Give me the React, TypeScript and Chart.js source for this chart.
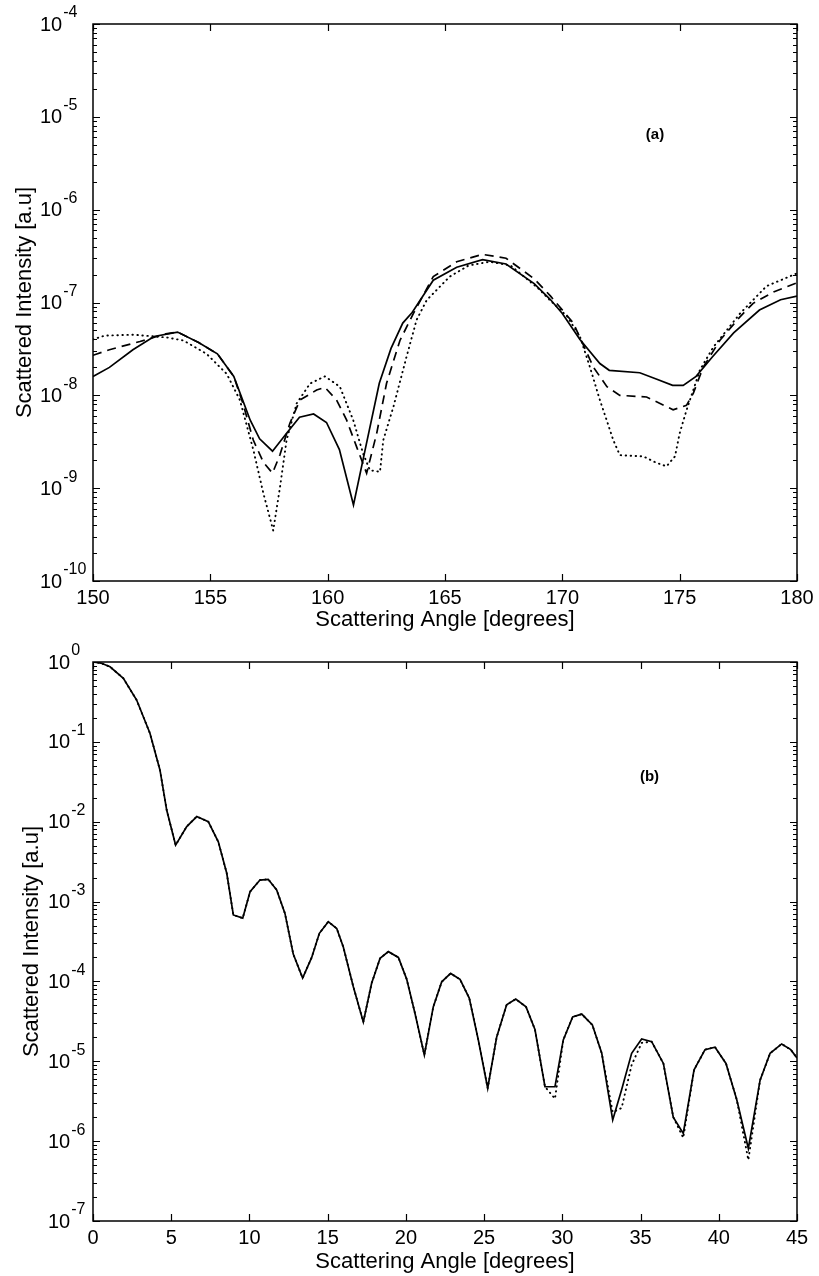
import React, { useEffect, useRef } from 'react';
import { Chart, registerables } from 'chart.js';

Chart.register(...registerables);

const FONT = '"Liberation Sans", Arial, Helvetica, sans-serif';

// ---------- Panel (a): back-scattering region ----------
const anglesA_solid = [150, 150.7, 151.7, 152.6, 153.6, 154.5, 155.3, 156.0, 156.7, 157.1, 157.65, 158.25, 158.8, 159.4, 159.95, 160.5, 161.1, 161.65, 162.2, 162.7, 163.2, 163.6, 164.5, 165.5, 166.6, 167.6, 168.8, 169.5, 170.0, 170.75, 171.6, 172.0, 173.3, 174.0, 174.7, 175.15, 175.7, 176.4, 177.3, 178.4, 179.3, 180];
const intensityA_solid = [1.6e-8, 2.0e-8, 3.1e-8, 4.3e-8, 4.8e-8, 3.7e-8, 2.8e-8, 1.6e-8, 5.4e-9, 3.4e-9, 2.5e-9, 3.9e-9, 5.8e-9, 6.3e-9, 5.1e-9, 2.6e-9, 6.6e-10, 3.0e-9, 1.35e-8, 3.2e-8, 6.0e-8, 7.8e-8, 1.74e-7, 2.4e-7, 2.9e-7, 2.6e-7, 1.6e-7, 1.07e-7, 7.6e-8, 4.0e-8, 2.2e-8, 1.86e-8, 1.75e-8, 1.5e-8, 1.28e-8, 1.28e-8, 1.6e-8, 2.6e-8, 4.7e-8, 8.3e-8, 1.07e-7, 1.17e-7];

const anglesA_dashed = [150, 150.7, 152.0, 153.1, 153.6, 154.5, 155.3, 156.0, 156.4, 156.83, 157.26, 157.65, 157.97, 158.39, 158.82, 159.53, 159.88, 160.38, 160.81, 161.23, 161.66, 162.09, 162.51, 163.08, 163.65, 164.5, 165.5, 166.6, 167.6, 168.8, 169.5, 170.47, 171.33, 171.9, 172.45, 173.59, 174.72, 175.29, 175.58, 176.0, 176.71, 177.57, 178.13, 179.0, 180];
const intensityA_dashed = [2.7e-8, 3.1e-8, 3.8e-8, 4.6e-8, 4.8e-8, 3.7e-8, 2.8e-8, 1.6e-8, 8.0e-9, 3.3e-9, 1.9e-9, 1.45e-9, 2.3e-9, 5.0e-9, 8.9e-9, 1.14e-8, 1.22e-8, 8.9e-9, 5.4e-9, 2.8e-9, 1.45e-9, 3.9e-9, 1.35e-8, 3.9e-8, 7.6e-8, 1.9e-7, 2.75e-7, 3.3e-7, 3.0e-7, 1.8e-7, 1.17e-7, 6.0e-8, 2.0e-8, 1.24e-8, 1.0e-8, 9.6e-9, 7.0e-9, 7.8e-9, 1.05e-8, 2.0e-8, 3.9e-8, 7.0e-8, 9.8e-8, 1.3e-7, 1.63e-7];

const anglesA_dotted = [150, 150.5, 151.72, 153.14, 153.85, 154.84, 155.7, 156.26, 156.83, 157.26, 157.68, 157.97, 158.25, 158.68, 159.25, 159.88, 160.52, 161.09, 161.51, 161.8, 162.23, 162.37, 162.8, 163.36, 163.79, 164.22, 165.2, 166.0, 166.9, 167.8, 169.0, 169.47, 170.2, 170.75, 171.18, 171.6, 171.89, 172.17, 172.45, 173.45, 174.02, 174.44, 174.8, 175.0, 175.29, 175.58, 175.86, 176.43, 177.0, 177.57, 178.7, 180];
const intensityA_dotted = [4.0e-8, 4.4e-8, 4.5e-8, 4.2e-8, 3.9e-8, 2.8e-8, 1.7e-8, 8.9e-9, 2.6e-9, 8.8e-10, 3.5e-10, 1.03e-9, 3.3e-9, 8.2e-9, 1.34e-8, 1.6e-8, 1.24e-8, 5.4e-9, 2.36e-9, 1.56e-9, 1.5e-9, 3.3e-9, 7.5e-9, 2.6e-8, 6.5e-8, 1.06e-7, 1.9e-7, 2.5e-7, 2.75e-7, 2.5e-7, 1.4e-7, 1.06e-7, 7.1e-8, 4.3e-8, 2.0e-8, 8.9e-9, 5.4e-9, 3.3e-9, 2.27e-9, 2.2e-9, 1.87e-9, 1.72e-9, 2.2e-9, 3.9e-9, 6.9e-9, 1.14e-8, 1.87e-8, 3.3e-8, 5.0e-8, 7.6e-8, 1.5e-7, 2.06e-7];

// ---------- Panel (b): forward-scattering region ----------
const anglesB = [0, 0.5, 1.09, 1.94, 2.79, 3.64, 4.28, 4.71, 5.28, 5.99, 6.63, 7.37, 8.01, 8.55, 8.97, 9.57, 10.04, 10.67, 11.2, 11.74, 12.27, 12.8, 13.4, 13.98, 14.47, 15.04, 15.58, 16.0, 16.64, 17.28, 17.81, 18.35, 18.88, 19.52, 20.05, 20.58, 21.18, 21.75, 22.29, 22.86, 23.46, 24.05, 24.63, 25.23, 25.8, 26.44, 27.02, 27.68, 28.25, 28.89, 29.53, 30.06, 30.66, 31.24, 31.92, 32.52, 33.22, 33.79, 34.43, 35.07, 35.71, 36.46, 37.09, 37.73, 38.42, 39.12, 39.76, 40.46, 41.15, 41.89, 42.64, 43.28, 44.02, 44.6, 45];
const intensityB_solid = [1.0, 0.97, 0.87, 0.625, 0.334, 0.128, 0.0445, 0.014, 5.1e-3, 8.7e-3, 1.16e-2, 1.0e-2, 5.6e-3, 2.26e-3, 6.8e-4, 6.2e-4, 1.33e-3, 1.86e-3, 1.9e-3, 1.4e-3, 7.1e-4, 2.2e-4, 1.1e-4, 2.0e-4, 4.0e-4, 5.6e-4, 4.6e-4, 2.7e-4, 8.6e-5, 3.1e-5, 9.5e-5, 1.95e-4, 2.36e-4, 2.0e-4, 1.07e-4, 4.0e-5, 1.2e-5, 4.8e-5, 9.9e-5, 1.26e-4, 1.06e-4, 6.2e-5, 1.85e-5, 4.6e-6, 2.0e-5, 5.1e-5, 6.0e-5, 4.8e-5, 2.5e-5, 4.8e-6, 4.8e-6, 1.85e-5, 3.6e-5, 3.9e-5, 2.85e-5, 1.26e-5, 1.84e-6, 4.4e-6, 1.26e-5, 1.9e-5, 1.76e-5, 9.4e-6, 2.0e-6, 1.25e-6, 7.8e-6, 1.4e-5, 1.5e-5, 9.4e-6, 3.3e-6, 8.1e-7, 5.8e-6, 1.26e-5, 1.65e-5, 1.4e-5, 1.1e-5];
const intensityB_dotted = [1.0, 0.97, 0.87, 0.625, 0.334, 0.128, 0.0445, 0.014, 5.1e-3, 8.7e-3, 1.16e-2, 1.0e-2, 5.6e-3, 2.26e-3, 6.8e-4, 6.2e-4, 1.33e-3, 1.86e-3, 1.9e-3, 1.4e-3, 7.1e-4, 2.2e-4, 1.1e-4, 2.0e-4, 4.0e-4, 5.6e-4, 4.6e-4, 2.7e-4, 8.6e-5, 3.1e-5, 9.5e-5, 1.95e-4, 2.36e-4, 2.0e-4, 1.07e-4, 4.0e-5, 1.2e-5, 4.8e-5, 9.9e-5, 1.26e-4, 1.06e-4, 6.2e-5, 1.85e-5, 4.6e-6, 2.0e-5, 5.1e-5, 6.0e-5, 4.8e-5, 2.5e-5, 4.8e-6, 3.4e-6, 1.85e-5, 3.6e-5, 3.9e-5, 2.85e-5, 1.26e-5, 2.3e-6, 2.6e-6, 9.0e-6, 1.7e-5, 1.76e-5, 9.4e-6, 2.0e-6, 1.1e-6, 7.8e-6, 1.4e-5, 1.5e-5, 9.4e-6, 3.3e-6, 5.8e-7, 5.8e-6, 1.26e-5, 1.65e-5, 1.4e-5, 1.1e-5];

const X_TITLE = 'Scattering Angle [degrees]';
const Y_TITLE = 'Scattered Intensity [a.u]';

const toPoints = (xs: number[], ys: number[]) => xs.map((x, i) => ({ x, y: ys[i] }));

const matlabFrame = {
  id: 'matlabFrame',
  afterDraw(chart: any, _args: any, opts: any) {
    const { ctx, chartArea: ca } = chart;
    const xs = chart.scales.x;
    const ys = chart.scales.y;
    ctx.save();
    ctx.strokeStyle = '#000';
    ctx.lineWidth = 1.5;
    ctx.strokeRect(ca.left, ca.top, ca.right - ca.left, ca.bottom - ca.top);

    ctx.lineWidth = 1.2;
    ctx.beginPath();
    xs.ticks.forEach((t: any) => {
      const px = Math.round(xs.getPixelForValue(t.value)) + 0.5;
      ctx.moveTo(px, ca.bottom);
      ctx.lineTo(px, ca.bottom - 7);
      ctx.moveTo(px, ca.top);
      ctx.lineTo(px, ca.top + 7);
    });
    for (let e = opts.minExp; e <= opts.maxExp; e++) {
      for (let m = 1; m <= 9; m++) {
        if (e === opts.maxExp && m > 1) break;
        const v = m * Math.pow(10, e);
        const py = Math.round(ys.getPixelForValue(v)) + 0.5;
        const len = m === 1 ? 7 : 4;
        ctx.moveTo(ca.left, py);
        ctx.lineTo(ca.left + len, py);
        ctx.moveTo(ca.right, py);
        ctx.lineTo(ca.right - len, py);
      }
    }
    ctx.stroke();

    ctx.fillStyle = '#000';
    ctx.textAlign = 'left';
    ctx.textBaseline = 'middle';
    for (let e = opts.minExp; e <= opts.maxExp; e++) {
      const py = ys.getPixelForValue(Math.pow(10, e));
      ctx.font = `20px ${FONT}`;
      ctx.fillText('10', opts.labelLeft, py + 1);
      const w = ctx.measureText('10').width;
      ctx.font = `16px ${FONT}`;
      ctx.fillText(String(e), opts.labelLeft + w + 1, py - 11);
    }

    ctx.font = `22px ${FONT}`;
    ctx.textAlign = 'center';
    ctx.textBaseline = 'alphabetic';
    ctx.fillText(X_TITLE, (ca.left + ca.right) / 2, ca.bottom + opts.xTitleOffset);

    ctx.save();
    ctx.translate(opts.yTitleX, (ca.top + ca.bottom) / 2);
    ctx.rotate(-Math.PI / 2);
    ctx.textBaseline = 'middle';
    ctx.fillText(Y_TITLE, 0, 0);
    ctx.restore();

    ctx.font = `bold 15px ${FONT}`;
    ctx.textAlign = 'center';
    ctx.textBaseline = 'middle';
    ctx.fillText(opts.panelLabel, xs.getPixelForValue(opts.panelX), ys.getPixelForValue(opts.panelY));
    ctx.restore();
  },
};

const solidStyle = { borderColor: '#000', borderWidth: 1.7, pointRadius: 0, tension: 0, fill: false };
const dashedStyle = { borderColor: '#000', borderWidth: 1.7, borderDash: [9, 6], pointRadius: 0, tension: 0, fill: false };
const dottedStyle = { borderColor: '#000', borderWidth: 1.9, borderDash: [0.5, 4.5], borderCapStyle: 'round', pointRadius: 0, tension: 0, fill: false };

function makeOptions(p: any) {
  return {
    responsive: false,
    animation: false,
    devicePixelRatio: 1,
    layout: { padding: { top: p.top, right: 22, left: 0, bottom: 0 } },
    plugins: {
      legend: { display: false },
      tooltip: { enabled: false },
      matlabFrame: p.frame,
    },
    scales: {
      x: {
        type: 'linear',
        min: p.xMin,
        max: p.xMax,
        ticks: { stepSize: 5, autoSkip: false, maxRotation: 0, color: '#000', padding: -3, font: { size: 20, family: FONT } },
        grid: { display: false },
        border: { display: false },
        afterFit: (s: any) => { s.height = p.xAxisHeight; },
      },
      y: {
        type: 'logarithmic',
        min: p.yMin,
        max: p.yMax,
        ticks: { display: false },
        grid: { display: false },
        border: { display: false },
        afterFit: (s: any) => { s.width = 93; },
      },
    },
  };
}

export default function App() {
  const refA = useRef<HTMLCanvasElement>(null);
  const refB = useRef<HTMLCanvasElement>(null);

  useEffect(() => {
    const chartA = new Chart(refA.current as HTMLCanvasElement, {
      type: 'line',
      data: {
        datasets: [
          { ...solidStyle, data: toPoints(anglesA_solid, intensityA_solid), order: 0 },
          { ...dashedStyle, data: toPoints(anglesA_dashed, intensityA_dashed), order: 1 },
          { ...dottedStyle, data: toPoints(anglesA_dotted, intensityA_dotted), order: 2 },
        ],
      },
      options: makeOptions({
        top: 24, xMin: 150, xMax: 180, yMin: 1e-10, yMax: 1e-4, xAxisHeight: 59,
        frame: { minExp: -10, maxExp: -4, labelLeft: 40, yTitleX: 25, xTitleOffset: 45, panelLabel: '(a)', panelX: 173.95, panelY: 6.4e-6 },
      }) as any,
      plugins: [matlabFrame],
    } as any);

    const chartB = new Chart(refB.current as HTMLCanvasElement, {
      type: 'line',
      data: {
        datasets: [
          { ...solidStyle, data: toPoints(anglesB, intensityB_solid), order: 0 },
          { ...dottedStyle, data: toPoints(anglesB, intensityB_dotted), order: 1 },
        ],
      },
      options: makeOptions({
        top: 22, xMin: 0, xMax: 45, yMin: 1e-7, yMax: 1, xAxisHeight: 55,
        frame: { minExp: -7, maxExp: 0, labelLeft: 48, yTitleX: 32, xTitleOffset: 47, panelLabel: '(b)', panelX: 35.57, panelY: 0.0366 },
      }) as any,
      plugins: [matlabFrame],
    } as any);

    return () => {
      chartA.destroy();
      chartB.destroy();
    };
  }, []);

  return (
    <div style={{ position: 'fixed', left: 0, top: 0, width: 819, height: 1276, background: '#fff' }}>
      <canvas ref={refA} width={819} height={640} style={{ position: 'absolute', left: 0, top: 0, width: 819, height: 640 }} />
      <canvas ref={refB} width={819} height={636} style={{ position: 'absolute', left: 0, top: 640, width: 819, height: 636 }} />
    </div>
  );
}
